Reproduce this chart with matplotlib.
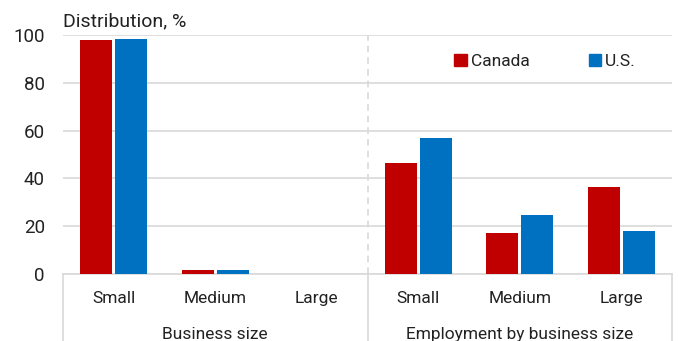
import numpy as np
import matplotlib
matplotlib.use("Agg")
import matplotlib.pyplot as plt
from matplotlib.patches import Patch

plt.rcParams['font.family'] = ['Roboto', 'DejaVu Sans']

# data
tick_labels = ['Small', 'Medium', 'Large', 'Small', 'Medium', 'Large']
group_labels = ['Business size', 'Employment by business size']
canada = [98.0, 1.5, 0.2, 46.5, 17.0, 36.3]
us = [98.3, 1.5, 0.05, 57.0, 24.6, 18.0]

red = '#C00000'
blue = '#0070C0'
grid_col = '#d9d9d9'
txt = '#222222'

fig = plt.figure(figsize=(6.78, 3.41), dpi=100)
ax = fig.add_axes([63/678, 1-274/341, (672-63)/678, (274-35)/341])

x = np.arange(len(tick_labels))
w = 0.315
ax.bar(x - 0.172, canada, w, color=red, zorder=3)
ax.bar(x + 0.172, us, w, color=blue, zorder=3)

ax.set_xlim(-0.5, len(tick_labels) - 0.5)
ax.set_ylim(0, 100)
ax.set_yticks([0, 20, 40, 60, 80, 100])
ax.tick_params(axis='y', length=0, labelsize=13.5, pad=13, colors=txt)
ax.yaxis.grid(True, color=grid_col, lw=1.2, zorder=0)
ax.set_xticks(x)
ax.set_xticklabels(tick_labels)
ax.tick_params(axis='x', length=0, labelsize=12.5, pad=12, colors=txt)
for s in ['top', 'right', 'left']:
    ax.spines[s].set_visible(False)
ax.spines['bottom'].set_color(grid_col)
ax.spines['bottom'].set_linewidth(1.2)

# dashed separator between the two groups
ax.axvline(2.5, color=grid_col, ls=(0, (4, 3)), lw=1.2, zorder=1)

# group separators below the axis
for xv in [-0.5, 2.5, 5.5]:
    ax.plot([xv, xv], [0, -28], color=grid_col, lw=1.2, clip_on=False)
ax.text(1, -25.5, group_labels[0], ha='center', va='center', fontsize=12.5,
        color=txt)
ax.text(4, -25.5, group_labels[1], ha='center', va='center', fontsize=12.5,
        color=txt)

fig.text(63/678, 1-21/341, 'Distribution, %', ha='left', va='center',
         fontsize=14, color=txt)

handles = [Patch(color=red, label='Canada'), Patch(color=blue, label='U.S.')]
ax.legend(handles=handles, ncol=2, frameon=False, loc='center',
          bbox_to_anchor=(4.25, 89), bbox_transform=ax.transData,
          fontsize=12.5, handlelength=0.7, handleheight=0.7,
          handletextpad=0.25, columnspacing=3.4, labelcolor=txt)

fig.savefig('out.png', dpi=100)
